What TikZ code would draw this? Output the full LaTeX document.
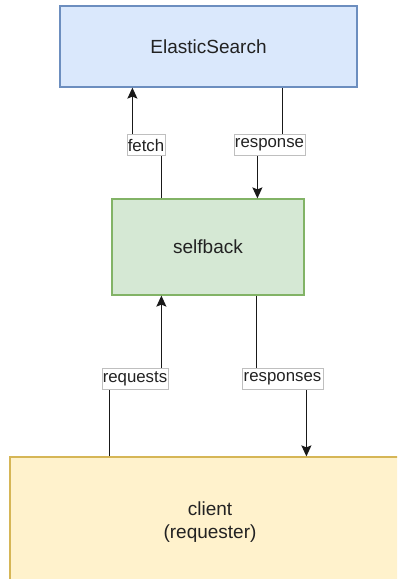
\documentclass[tikz,border=0pt]{standalone}
\usepackage{fontspec}
\setmainfont{Liberation Sans}
\usetikzlibrary{arrows.meta}
\definecolor{esfill}{HTML}{DAE8FC}\definecolor{esdraw}{HTML}{6C8EBF}
\definecolor{sbfill}{HTML}{D5E8D4}\definecolor{sbdraw}{HTML}{82B366}
\definecolor{clfill}{HTML}{FFF2CC}\definecolor{cldraw}{HTML}{D6B656}
\definecolor{txt}{HTML}{222222}
\begin{document}
\begin{tikzpicture}[x=1pt,y=-1pt,
  boxnode/.style={draw, line width=1.2pt, inner sep=0pt, text=txt, font=\fontsize{19}{23}\selectfont, align=center},
  lbl/.style={draw=black!25, line width=0.6pt, fill=white, inner sep=0pt, minimum height=21pt, text=txt, font=\fontsize{16.8}{18}\selectfont},
  arr/.style={line width=1.4pt, draw=black!90, -{Stealth[length=11pt,width=10pt,inset=2pt]}}]
\useasboundingbox (0,0) rectangle (397,579);
\clip (0,0) rectangle (397,579);
\node[boxnode, fill=esfill, draw=esdraw, minimum width=297pt, minimum height=81pt] (es) at (208.5,46.5) {ElasticSearch};
\node[boxnode, fill=sbfill, draw=sbdraw, minimum width=192pt, minimum height=96pt] (sb) at (208,247) {selfback};
\node[boxnode, fill=clfill, draw=cldraw, minimum width=400pt, minimum height=130pt] (cl) at (210,522) {client\\(requester)};
% connectors
\coordinate (f1) at ([xshift=50pt]sb.north west);
\coordinate (f2) at ([xshift=73pt]es.south west);
\draw[arr] (f1) -- (f1 |- 0,145) -- (f2 |- 0,145) -- (f2);
\coordinate (r1) at ([xshift=223pt]es.south west);
\coordinate (r2) at ([xshift=146pt]sb.north west);
\draw[arr] (r1) -- (r1 |- 0,145) -- (r2 |- 0,145) -- (r2);
\coordinate (q1) at ([xshift=100pt]cl.north west);
\coordinate (q2) at ([xshift=50pt]sb.south west);
\draw[arr] (q1) -- (q1 |- 0,378.5) -- (q2 |- 0,378.5) -- (q2);
\coordinate (s1) at ([xshift=145pt]sb.south west);
\coordinate (s2) at ([xshift=297pt]cl.north west);
\draw[arr] (s1) -- (s1 |- 0,378.5) -- (s2 |- 0,378.5) -- (s2);
% labels
\node[lbl, minimum width=38pt] (lf) at (146,145) {fetch};
\node[lbl, minimum width=71pt] (lr) at (269.5,145) {response};
\node[lbl, minimum width=66pt] (lq) at (135,378.5) {requests};
\node[lbl, minimum width=81pt] (ls) at (282.5,378.5) {responses};
\end{tikzpicture}
\end{document}
